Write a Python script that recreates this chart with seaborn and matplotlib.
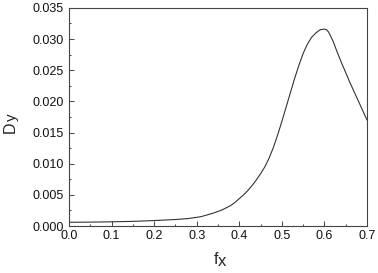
import pandas as pd
import matplotlib
matplotlib.use("Agg")
import matplotlib.pyplot as plt
from matplotlib.ticker import MultipleLocator, FormatStrFormatter
import seaborn as sns

# values
fx = [0.0, 0.05, 0.1, 0.15, 0.2, 0.25, 0.28, 0.31, 0.34, 0.36, 0.38, 0.39, 0.40,
      0.41, 0.42, 0.43, 0.44, 0.45, 0.46, 0.47, 0.48, 0.49, 0.50, 0.51, 0.52,
      0.53, 0.54, 0.55, 0.56, 0.57, 0.58, 0.59, 0.60, 0.605, 0.61, 0.62, 0.63,
      0.64, 0.65, 0.66, 0.67, 0.68, 0.69, 0.70]
dy = [0.0006, 0.00063, 0.00068, 0.00075, 0.00088, 0.00105, 0.0012, 0.0015,
      0.0021, 0.0026, 0.0033, 0.0038, 0.0044, 0.0050, 0.0057, 0.0065, 0.0074,
      0.0084, 0.0095, 0.0109, 0.0126, 0.0146, 0.0168, 0.0191, 0.0214, 0.0237,
      0.0258, 0.0277, 0.0292, 0.0303, 0.0310, 0.0315, 0.0316, 0.0315, 0.0311,
      0.0297, 0.0279, 0.0262, 0.0246, 0.0230, 0.0215, 0.0200, 0.0185, 0.0170]

df = pd.DataFrame({"fx": fx, "dy": dy})

sns.set_style("ticks")
plt.rcParams['font.family'] = ['Liberation Sans', 'DejaVu Sans']

fig = plt.figure(figsize=(3.78, 2.73), dpi=100)
ax = fig.add_axes([0.1825, 0.172, 0.7885, 0.799])

sns.lineplot(data=df, x="fx", y="dy", ax=ax, color="#333333", linewidth=0.8)

ax.set_xlim(0, 0.7)
ax.set_ylim(0, 0.035)
ax.xaxis.set_major_locator(MultipleLocator(0.1))
ax.xaxis.set_minor_locator(MultipleLocator(0.05))
ax.yaxis.set_major_locator(MultipleLocator(0.005))
ax.yaxis.set_minor_locator(MultipleLocator(0.0025))
ax.xaxis.set_major_formatter(FormatStrFormatter('%.1f'))
ax.yaxis.set_major_formatter(FormatStrFormatter('%.3f'))
ax.tick_params(which='both', direction='in', top=False, right=False, width=0.7,
               labelsize=9, color='#444444', labelcolor='#111111')
ax.tick_params(which='major', length=3.3)
ax.tick_params(axis='y', which='major', pad=4)
ax.tick_params(axis='x', which='major', pad=3)
ax.tick_params(which='minor', length=1.6)
for s in ax.spines.values():
    s.set_linewidth(0.8)
    s.set_color('#444444')

# axis names: main letter plus a near-full-size lowered subscript
ax.set_xlabel('f', fontsize=11.5)
ax.set_ylabel('D', fontsize=11.5)
ax.xaxis.set_label_coords(0.4916, -0.118)
ax.yaxis.set_label_coords(-0.1735, 0.452)
ax.annotate('x', xy=(1, 0), xycoords=ax.xaxis.label, xytext=(0.2, -1.5),
            textcoords='offset points', ha='left', va='bottom', fontsize=12)
ax.annotate('y', xy=(1, 1), xycoords=ax.yaxis.label, xytext=(1, 0.3),
            textcoords='offset points', ha='right', va='bottom', fontsize=11,
            rotation=90)

fig.savefig("out.png", dpi=100)
